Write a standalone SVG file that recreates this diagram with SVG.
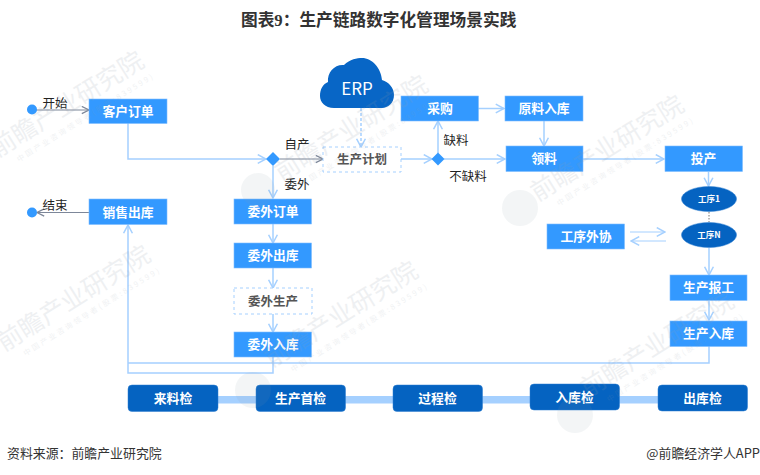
<svg xmlns="http://www.w3.org/2000/svg" xmlns:xlink="http://www.w3.org/1999/xlink" width="760" height="475" viewBox="0 0 760 475">
<style>
text{font-family:"Noto Sans CJK SC","Liberation Sans",sans-serif}
.b{fill:#3399ff;stroke:#7fbcff;stroke-width:.6}
.d{fill:#0563c1;stroke:#2f7fd0;stroke-width:.5}
.da{fill:#fff;stroke:#a5d0ff;stroke-width:1;stroke-dasharray:3 3}
.w{fill:#fff;font-size:12.800px;font-weight:700;text-anchor:middle}
.s{fill:#fff;font-size:8.500px;font-weight:700;text-anchor:middle}
.k{fill:#222;font-size:12.500px;text-anchor:middle}
.g{fill:#555;font-size:12.500px;font-weight:700;text-anchor:middle}
.l{fill:none;stroke:#a5d0ff;stroke-width:1.5}
.a{marker-end:url(#al)}
.y{fill:none;stroke:#7d8799;stroke-width:1;marker-end:url(#ag)}
.wm{fill:#8e99a6;opacity:.14;font-size:25px}
.ws{fill:#8e99a6;opacity:.13;font-size:7.500px;letter-spacing:2.300px}
.lg{fill:#8e99a6;opacity:.1}
</style>
<defs>
<marker id="al" viewBox="0 0 10 10" refX="9" refY="5" markerWidth="11" markerHeight="11" markerUnits="userSpaceOnUse" orient="auto"><path d="M1.500 1L9 5L1.500 9" fill="none" stroke="#a5d0ff" stroke-width="1.400"/></marker>
<marker id="ag" viewBox="0 0 10 10" refX="9" refY="5" markerWidth="9" markerHeight="9" markerUnits="userSpaceOnUse" orient="auto"><path d="M1 1L9 5L1 9" fill="none" stroke="#7d8799" stroke-width="1.400"/></marker>
<g id="mark"><text class="wm" x="0" y="0">前瞻产业研究院</text><text class="ws" x="16" y="15">中国产业咨询领导者(股票:839599)</text></g>
</defs>
<rect width="760" height="475" fill="#fff"/>
<text x="241" y="26" font-size="16.700" font-weight="700" fill="#333" style="font-family:'Liberation Serif','Noto Sans CJK SC',serif">图表9&#xFF1A;生产链路数字化管理场景实践</text>

<g id="bands"><rect x="215" y="396" width="445" height="7.500" fill="#a5d0ff"/></g>

<g id="connectors">
<path class="y" d="M36 110H89"/>
<path class="l a" d="M128 123V159H266"/>
<path class="y" d="M280 159H323"/>
<path class="l a" d="M273 166V198"/>
<path class="l a" d="M273 224V243"/>
<path class="l a" d="M273 268V288"/>
<path class="l a" d="M273 314V332"/>
<path class="l" d="M709 346V363H128"/>
<path class="l a" d="M273 357V373H128V225"/>
<path class="y" d="M89 212.500H37"/>
<path class="l a" d="M361 108V147" stroke-dasharray="3 2"/>
<path class="l a" d="M401 159H432"/>
<path class="l a" d="M438 153V121"/>
<path class="l a" d="M444 159H505"/>
<path class="l a" d="M478 108.500H504"/>
<path class="l a" d="M544 121V146"/>
<path class="l a" d="M583 159H664"/>
<path class="l a" d="M708.500 172V186"/>
<path d="M709 212V222" fill="none" stroke="#777" stroke-dasharray="1.500 1.500"/>
<path class="l a" d="M630 232H665" style="stroke-width:1"/>
<path class="l a" d="M666 241H631" style="stroke-width:1"/>
<path class="l a" d="M709 248V275"/>
<path class="l a" d="M709 301V320"/>
</g>

<g id="start"><circle cx="32" cy="109.500" r="5" fill="#3399ff"/><text class="k" x="55" y="108">开始</text></g>
<g id="order"><rect class="b" x="89" y="99" width="78" height="24.500"/><text class="w" x="128" y="115.500">客户订单</text></g>
<g id="end"><circle cx="32" cy="212.500" r="5" fill="#3399ff"/><text class="k" x="55" y="210">结束</text></g>
<g id="sales"><rect class="b" x="89" y="199" width="78" height="25.500"/><text class="w" x="128" y="216.500">销售出库</text></g>
<g id="decision1"><path d="M273 152L280 159L273 166L266 159Z" fill="#3399ff"/><text class="k" x="297" y="148.500">自产</text><text class="k" x="297" y="188.500">委外</text></g>
<g id="plan"><rect class="da" x="323" y="147" width="78" height="25"/><text class="g" x="362" y="164">生产计划</text></g>
<g id="erp"><path style="fill:#0866c6" d="M334 108C325 108 320 102 320 96C320 89 323 84 328 82C327 72 335 64 344 65C350 59 357 58 362 58C372 58 381 68 382 80C389 82 394 88 394 95C394 103 388 108 382 108Z"/><text x="357" y="95" fill="#fff" font-size="17" text-anchor="middle">ERP</text></g>
<g id="wo"><rect class="b" x="234" y="199" width="77.500" height="25"/><text class="w" x="273" y="216">委外订单</text></g>
<g id="wc"><rect class="b" x="234" y="243" width="77.500" height="25"/><text class="w" x="273" y="260">委外出库</text></g>
<g id="wp"><rect class="da" x="234" y="288" width="78" height="26"/><text class="g" x="273" y="305.500">委外生产</text></g>
<g id="wr"><rect class="b" x="234" y="332" width="77.500" height="25"/><text class="w" x="273" y="349">委外入库</text></g>
<g id="purchase"><rect class="b" x="401" y="96" width="77.500" height="25"/><text class="w" x="440" y="113">采购</text></g>
<g id="raw"><rect class="b" x="505" y="96" width="78" height="25"/><text class="w" x="544" y="113">原料入库</text></g>
<g id="decision2"><path d="M438 152.500L444.500 159L438 165.500L431.500 159Z" fill="#3399ff"/><text class="k" x="456" y="144.500">缺料</text><text class="k" x="468" y="180.500">不缺料</text></g>
<g id="pick"><rect class="b" x="506" y="146" width="77" height="25.500"/><text class="w" x="544" y="163">领料</text></g>
<g id="prod"><rect class="b" x="665" y="146" width="77.500" height="25.500"/><text class="w" x="703.500" y="163">投产</text></g>
<g id="p1"><ellipse class="d" cx="709" cy="199" rx="27.500" ry="12.500"/><text class="s" x="709" y="202">工序1</text></g>
<g id="pn"><ellipse class="d" cx="709" cy="235" rx="27.500" ry="12.500"/><text class="s" x="709" y="238">工序N</text></g>
<g id="outsrc"><rect class="b" x="547" y="224" width="77.500" height="25"/><text class="w" x="586" y="241">工序外协</text></g>
<g id="report"><rect class="b" x="670" y="275" width="77" height="25.500"/><text class="w" x="708.500" y="292">生产报工</text></g>
<g id="store"><rect class="b" x="670" y="321" width="77" height="25.500"/><text class="w" x="708.500" y="338">生产入库</text></g>
<g id="q1"><rect class="d" x="128" y="385" width="90" height="26.500" rx="4"/><text class="w" x="173" y="403">来料检</text></g>
<g id="q2"><rect class="d" x="256" y="385" width="89.500" height="26.500" rx="4"/><text class="w" x="300.500" y="403">生产首检</text></g>
<g id="q3"><rect class="d" x="393" y="385" width="89.500" height="26.500" rx="4"/><text class="w" x="437.500" y="402.500">过程检</text></g>
<g id="q4"><rect class="d" x="530" y="384" width="89.500" height="26" rx="4"/><text class="w" x="574.500" y="401.500">入库检</text></g>
<g id="q5"><rect class="d" x="658" y="385" width="89.500" height="26" rx="4"/><text class="w" x="702.500" y="402.500">出库检</text></g>

<g id="watermarks">
<use xlink:href="#mark" transform="translate(-2.500 158) rotate(-32)"/>
<use xlink:href="#mark" transform="translate(281.500 182) rotate(-32)"/>
<use xlink:href="#mark" transform="translate(537.500 202) rotate(-32)"/>
<use xlink:href="#mark" transform="translate(4 352) rotate(-32)"/>
<use xlink:href="#mark" transform="translate(271.500 368) rotate(-32)"/>
<use xlink:href="#mark" transform="translate(587.500 398) rotate(-32)"/>
<circle class="lg" cx="258" cy="190" r="17"/>
<circle class="lg" cx="520" cy="208" r="18"/>
<circle class="lg" cx="253" cy="390" r="18"/>
<circle class="lg" cx="575" cy="415" r="18"/>
</g>

<text x="7" y="458" font-size="12.900" fill="#333">资料来源&#xFF1A;前瞻产业研究院</text>
<text x="760" y="458" font-size="12.900" fill="#333" text-anchor="end">@前瞻经济学人APP</text>
</svg>
